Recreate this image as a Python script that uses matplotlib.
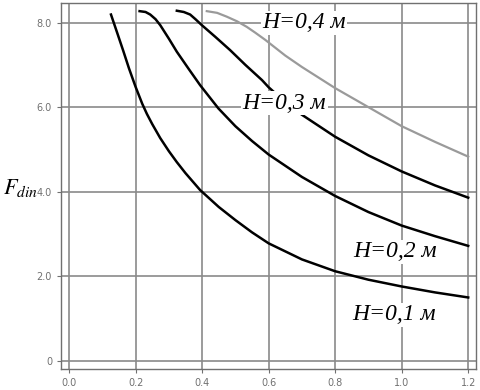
import numpy as np
import matplotlib
matplotlib.use('Agg')
import matplotlib.pyplot as plt

plt.rcParams['mathtext.fontset'] = 'stix'

# curves: (x, F_din)
x_h01 = [0.126, 0.145, 0.163, 0.18, 0.2, 0.22, 0.234, 0.25, 0.274, 0.3, 0.324, 0.35, 0.394,
         0.45, 0.5, 0.55, 0.6, 0.7, 0.8, 0.9, 1.0, 1.1, 1.2]
f_h01 = [8.19, 7.75, 7.33, 6.92, 6.48, 6.08, 5.84, 5.6, 5.27, 4.96, 4.7, 4.44, 4.04,
         3.64, 3.33, 3.04, 2.78, 2.4, 2.12, 1.92, 1.76, 1.62, 1.5]

x_h02 = [0.212, 0.23, 0.244, 0.26, 0.274, 0.3, 0.324, 0.36, 0.394, 0.449, 0.5, 0.55,
         0.6, 0.7, 0.8, 0.9, 1.0, 1.1, 1.2]
f_h02 = [8.27, 8.25, 8.19, 8.08, 7.94, 7.62, 7.31, 6.9, 6.52, 5.97, 5.55, 5.2,
         4.88, 4.35, 3.9, 3.52, 3.2, 2.95, 2.72]

x_h03 = [0.324, 0.345, 0.364, 0.38, 0.399, 0.44, 0.484, 0.53, 0.58, 0.6, 0.65, 0.7,
         0.8, 0.9, 1.0, 1.1, 1.2]
f_h03 = [8.28, 8.25, 8.19, 8.08, 7.94, 7.66, 7.35, 7.0, 6.64, 6.47, 6.12, 5.82,
         5.3, 4.86, 4.48, 4.15, 3.86]

x_h04 = [0.414, 0.445, 0.474, 0.505, 0.534, 0.56, 0.59, 0.65, 0.7, 0.8, 0.9, 1.0,
         1.1, 1.2]
f_h04 = [8.27, 8.23, 8.14, 8.03, 7.9, 7.76, 7.59, 7.22, 6.95, 6.45, 6.0, 5.55,
         5.18, 4.83]

labels = ['H=0,1 м', 'H=0,2 м', 'H=0,3 м', 'H=0,4 м']
label_pos = [(0.977, 1.09), (0.98, 2.58), (0.647, 6.09), (0.707, 7.99)]

xticks = [0.0, 0.2, 0.4, 0.6, 0.8, 1.0, 1.2]
yticks = [0, 2, 4, 6, 8]
ytick_labels = ['0', '2.0', '4.0', '6.0', '8.0']

fig = plt.figure(figsize=(4.81, 3.90), dpi=100)
ax = fig.add_axes([0.127, 0.054, 0.863, 0.938])

for x in xticks:
    ax.axvline(x, color='#8a8a8a', lw=1.2, zorder=1)
for y in yticks:
    ax.axhline(y, color='#8a8a8a', lw=1.2, zorder=1)

ax.plot(x_h01, f_h01, color='black', lw=1.8, zorder=2)
ax.plot(x_h02, f_h02, color='black', lw=1.8, zorder=2)
ax.plot(x_h03, f_h03, color='black', lw=1.8, zorder=2)
ax.plot(x_h04, f_h04, color='#9a9a9a', lw=1.6, zorder=2)

for txt, (lx, ly) in zip(labels, label_pos):
    ax.text(lx, ly, txt, family='Liberation Serif', style='italic', fontsize=17,
            ha='center', va='center', zorder=3,
            bbox=dict(facecolor='white', edgecolor='none', pad=1.0))

ax.set_xlim(-0.024, 1.224)
ax.set_ylim(-0.19, 8.46)
ax.set_xticks(xticks)
ax.set_xticklabels(['%.1f' % x for x in xticks])
ax.set_yticks(yticks)
ax.set_yticklabels(ytick_labels)
ax.tick_params(labelsize=7, colors='#707070', length=3, width=0.8)
for s in ax.spines.values():
    s.set_color('#707070')
    s.set_linewidth(1.0)

fig.text(0.042, 0.518, r'$F_{din}$', fontsize=16, ha='center', va='center')

fig.savefig('out.png', dpi=100)
